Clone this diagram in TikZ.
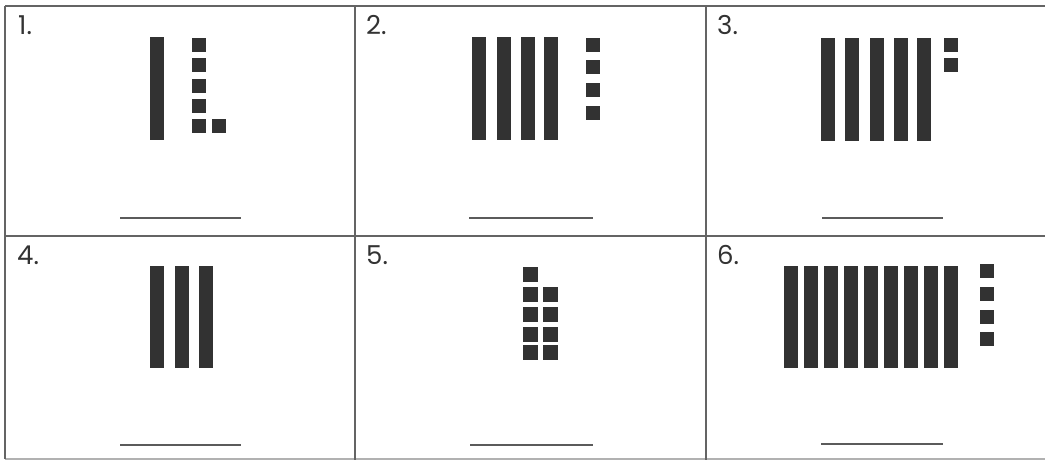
\documentclass[tikz,border=0pt]{standalone}
\usepackage{fontspec}
\setmainfont{Poppins}
\usepackage{tikz}
\usetikzlibrary{positioning}
\definecolor{blockgray}{RGB}{50, 50, 50}
\definecolor{rulegray}{RGB}{100, 100, 100}

\begin{document}
\begin{tikzpicture}[
    x=1pt, y=-1pt,
    rod/.style={fill=blockgray},
    unitcube/.style={fill=blockgray},
    gridline/.style={draw=rulegray, line width=1.3pt},
    answerline/.style={draw=blockgray!80, line width=1.1pt},
    numlabel/.style={anchor=base west, inner sep=0pt,
      font=\fontsize{26}{30}\selectfont, text=black!80},
]
    \useasboundingbox (0,0) rectangle (1045,460);

    % Grid
    \coordinate (tl) at (5,6);
    \coordinate (tr) at (1045,6);
    \coordinate (ml) at (5,236);
    \coordinate (mr) at (1045,236);
    \coordinate (bl) at (5,459);
    \coordinate (br) at (1045,459);
    \coordinate (v1t) at (355,6);
    \coordinate (v1b) at (355,460);
    \coordinate (v2t) at (706,6);
    \coordinate (v2b) at (706,460);
    \draw[gridline] (tl) -- (tr);
    \draw[gridline] (ml) -- (mr);
    \draw[gridline, draw=rulegray!50] (bl) -- (br);
    \draw[gridline] (tl) -- (bl);
    \draw[gridline] (v1t) -- (v1b);
    \draw[gridline] (v2t) -- (v2b);

    % Labels
    \node[numlabel] (n1) at (18,35) {1.};
    \node[numlabel] (n2) at (366,35) {2.};
    \node[numlabel] (n3) at (717,35) {3.};
    \node[numlabel] (n4) at (17,264) {4.};
    \node[numlabel] (n5) at (366,264) {5.};
    \node[numlabel] (n6) at (717,264) {6.};

    % 1.
    \fill[rod] (150,37) rectangle ++(14,103);
    \foreach \y in {38,58,79,99,119}
      \fill[unitcube] (192,\y) rectangle ++(14,14);
    \fill[unitcube] (212,119) rectangle ++(14,14);

    % 2.
    \foreach \x in {472,497,521,544}
      \fill[rod] (\x,37) rectangle ++(14,103);
    \foreach \y in {38,60,83,106}
      \fill[unitcube] (586,\y) rectangle ++(14,14);

    % 3.
    \foreach \x in {821,845,870,894,917}
      \fill[rod] (\x,38) rectangle ++(14,103);
    \foreach \y in {38,58}
      \fill[unitcube] (944,\y) rectangle ++(14,14);

    % 4.
    \foreach \x in {150,175,199}
      \fill[rod] (\x,266) rectangle ++(14,102);

    % 5.
    \fill[unitcube] (523,267) rectangle ++(15,15);
    \foreach \y in {287,307,327,345}
      \foreach \x in {523,543}
        \fill[unitcube] (\x,\y) rectangle ++(15,15);

    % 6.
    \foreach \i in {0,...,8}
      \fill[rod] (784+20*\i,266) rectangle ++(13.5,102);
    \foreach \y in {264,287,310,332}
      \fill[unitcube] (980,\y) rectangle ++(14,14);

    % Answer lines
    \coordinate (a1l) at (120,218); \coordinate (a1r) at (241,218);
    \coordinate (a2l) at (469,218); \coordinate (a2r) at (593,218);
    \coordinate (a3l) at (822,218); \coordinate (a3r) at (943,218);
    \coordinate (a4l) at (120,445); \coordinate (a4r) at (241,445);
    \coordinate (a5l) at (470,445); \coordinate (a5r) at (593,445);
    \coordinate (a6l) at (821,444); \coordinate (a6r) at (943,444);
    \foreach \k in {1,...,6}
      \draw[answerline] (a\k l) -- (a\k r);
\end{tikzpicture}
\end{document}
